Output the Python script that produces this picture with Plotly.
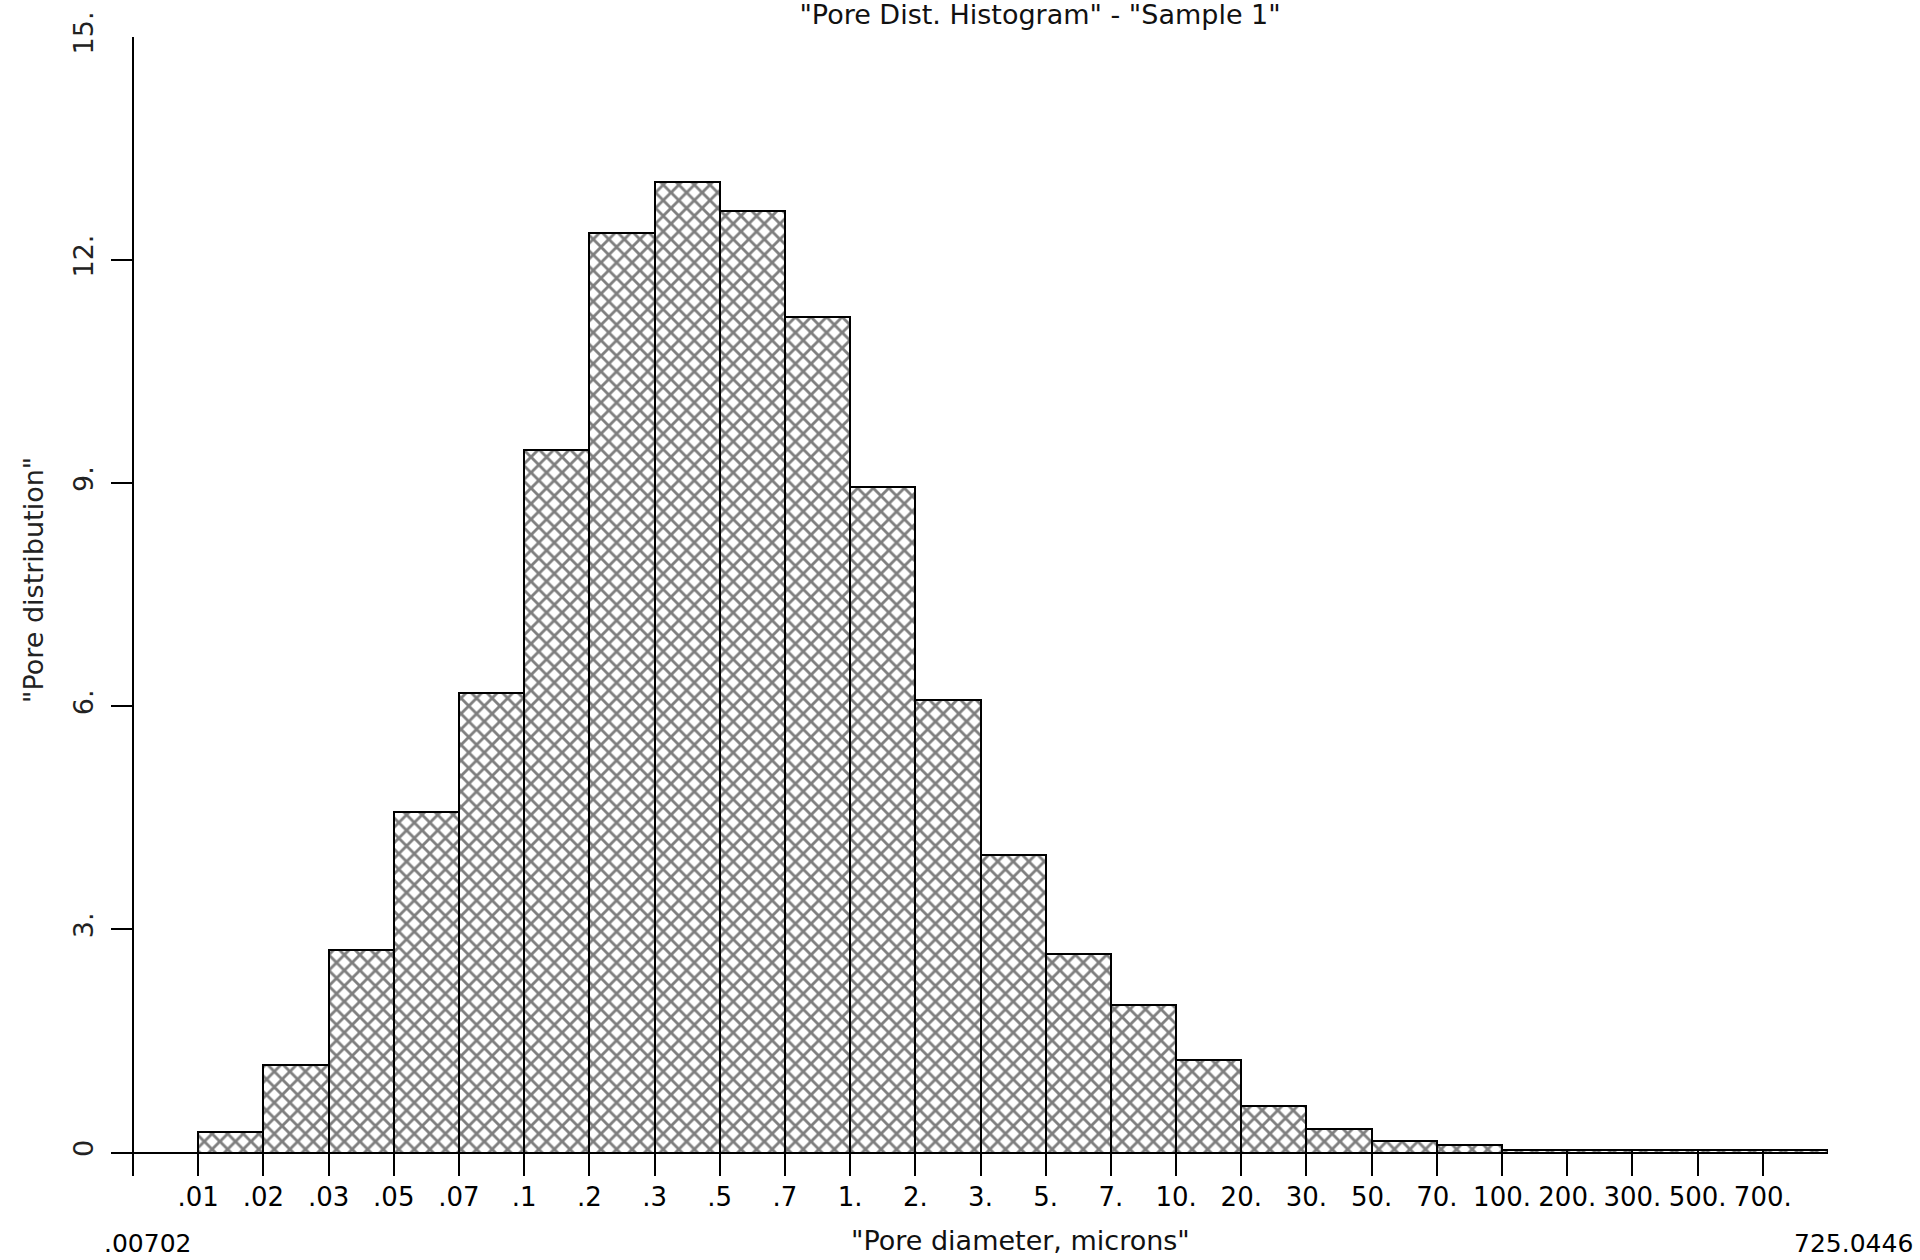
import plotly.graph_objects as go

# Bin edge labels (27 edges -> 26 bins)
edge_labels = [".00702", ".01", ".02", ".03", ".05", ".07", ".1", ".2", ".3", ".5", ".7",
               "1.", "2.", "3.", "5.", "7.", "10.", "20.", "30.", "50.", "70.",
               "100.", "200.", "300.", "500.", "700.", "725.0446"]
# Pore distribution values for each bin (starting at bin .00702-.01)
pore_values = [0.0, 0.28, 1.17, 2.72, 4.58, 6.18, 9.44, 12.36, 13.05, 12.66, 11.24,
               8.95, 6.08, 4.0, 2.67, 1.99, 1.24, 0.63, 0.31, 0.16, 0.10,
               0.04, 0.04, 0.04, 0.04, 0.04]
y_ticks = [0, 3, 6, 9, 12, 15]
y_tick_text = ["0", "3.", "6.", "9.", "12.", "15."]
range_min_label = ".00702"
range_max_label = "725.0446"
title_text = '"Pore Dist. Histogram" - "Sample 1"'
x_title = '"Pore diameter, microns"'
y_title = '"Pore distribution"'

n_bins = len(pore_values)
bin_centers = [i + 0.5 for i in range(n_bins)]
tick_pos = list(range(len(edge_labels)))
tick_text = ["" if i in (0, len(edge_labels) - 1) else lab for i, lab in enumerate(edge_labels)]

FONT = "DejaVu Sans, Verdana, sans-serif"

fig = go.Figure()
fig.add_trace(go.Bar(
    x=bin_centers[1:],
    y=pore_values[1:],
    width=1.0,
    marker=dict(
        color="white",
        line=dict(color="black", width=2),
        pattern=dict(shape="x", fgcolor="black", bgcolor="white", size=11, solidity=0.45,
                     fillmode="overlay"),
    ),
    showlegend=False,
))

fig.update_layout(
    width=1920, height=1260,
    paper_bgcolor="white", plot_bgcolor="white",
    margin=dict(l=111, r=92, t=37, b=84),
    bargap=0,
    title=dict(text=title_text, x=0.5417, xanchor="center",
               y=1 - 15 / 1260, yanchor="middle", yref="container",
               font=dict(family=FONT, size=27, color="#111")),
    font=dict(family=FONT, color="black"),
    xaxis=dict(
        range=[-0.3375, 26], tickmode="array", tickvals=tick_pos, ticktext=tick_text,
        ticks="inside", ticklen=23, tickwidth=2, tickcolor="black",
        showgrid=False, showline=False, zeroline=True, zerolinecolor="black", zerolinewidth=2,
        tickfont=dict(family=FONT, size=26, color="black"),
        ticklabelstandoff=3,
    ),
    yaxis=dict(
        range=[-0.316, 15], tickmode="array", tickvals=y_ticks, ticktext=y_tick_text,
        ticks="inside", ticklen=22, tickwidth=2, tickcolor="black",
        showgrid=False, showline=False, zeroline=True, zerolinecolor="black", zerolinewidth=2,
        tickangle=-90, tickfont=dict(family=FONT, size=27, color="#222"),
        ticklabelstandoff=12,
    ),
)

fig.add_annotation(text=range_min_label, xref="paper", yref="paper", x=(147 - 111) / 1717, y=0,
                   yshift=-67, showarrow=False, xanchor="center", yanchor="middle",
                   font=dict(family=FONT, size=25, color="black"))
fig.add_annotation(text=range_max_label, xref="paper", yref="paper", x=(1854 - 111) / 1717, y=0,
                   yshift=-67, showarrow=False, xanchor="center", yanchor="middle",
                   font=dict(family=FONT, size=25, color="black"))
fig.add_annotation(text=x_title, xref="paper", yref="paper", x=(1020 - 111) / 1717, y=0,
                   yshift=-64, showarrow=False, xanchor="center", yanchor="middle",
                   font=dict(family=FONT, size=27, color="#111"))
fig.add_annotation(text=y_title, xref="paper", yref="paper", x=(33 - 111) / 1717,
                   y=(1176 - 580) / (1176 - 37), textangle=-90,
                   showarrow=False, xanchor="center", yanchor="middle",
                   font=dict(family=FONT, size=27, color="#222"))

fig.write_html("out.html")
